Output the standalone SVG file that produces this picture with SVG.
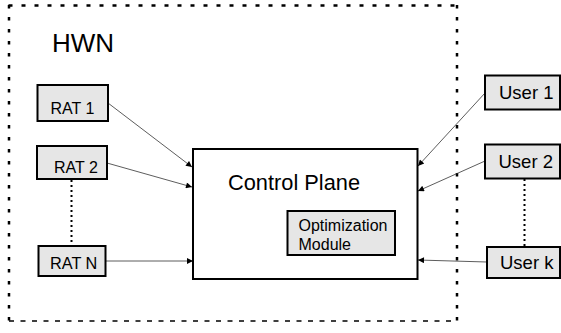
<svg xmlns="http://www.w3.org/2000/svg" width="561" height="333" viewBox="0 0 561 333">
<defs>
<style>
.box{fill:#e6e6e6;stroke:#000;stroke-width:2}
.main{fill:#fff;stroke:#000;stroke-width:2}
.t{font-family:"Liberation Sans",Arial,sans-serif;fill:#000}
.c{stroke:#333;stroke-width:0.8;fill:none;marker-end:url(#ah)}
.dot{stroke:#000;stroke-width:2;stroke-dasharray:2 3;fill:none}
</style>
<marker id="ah" viewBox="0 0 10 10" refX="10" refY="5" markerWidth="8" markerHeight="6" markerUnits="userSpaceOnUse" orient="auto">
<path d="M0,0 L10,5 L0,10 z" fill="#000"/>
</marker>
</defs>
<rect width="561" height="333" fill="#fff"/>
<g id="hwn">
<line x1="8.5" y1="5.5" x2="457" y2="5.5" stroke="#000" stroke-width="2.5" stroke-dasharray="4 9"/>
<line x1="9" y1="5" x2="9" y2="321" stroke="#000" stroke-width="2.5" stroke-dasharray="3.5 8.5"/>
<line x1="457" y1="5" x2="457" y2="321" stroke="#000" stroke-width="2.5" stroke-dasharray="3.5 8.5"/>
<line x1="9" y1="321" x2="457" y2="321" stroke="#000" stroke-width="1.3" stroke-dasharray="5 6.5"/>
<text class="t" x="52" y="52" font-size="26">HWN</text>
</g>
<g id="connectors">
<line class="c" x1="108" y1="103" x2="192" y2="167"/>
<line class="c" x1="107" y1="163" x2="192" y2="187"/>
<line class="c" x1="105" y1="261" x2="193" y2="261"/>
<line class="c" x1="485" y1="93" x2="418" y2="166"/>
<line class="c" x1="485" y1="161" x2="418" y2="191"/>
<line class="c" x1="487" y1="262" x2="418" y2="260"/>
<line class="dot" x1="71.5" y1="180" x2="71.5" y2="245"/>
<line class="dot" x1="524.5" y1="179" x2="524.5" y2="246"/>
</g>
<g id="rat1">
<rect class="box" x="37.5" y="85" width="70.5" height="36"/>
<text class="t" x="50.5" y="114" font-size="16">RAT 1</text>
</g>
<g id="rat2">
<rect class="box" x="37" y="146" width="70" height="33"/>
<text class="t" x="54" y="172.5" font-size="16">RAT 2</text>
</g>
<g id="ratn">
<rect class="box" x="38.5" y="246" width="67" height="30"/>
<text class="t" x="50" y="269" font-size="16.3">RAT N</text>
</g>
<g id="control">
<rect class="main" x="193" y="149" width="224.5" height="130"/>
<text class="t" x="228" y="190" font-size="21.8">Control Plane</text>
</g>
<g id="opt">
<rect class="box" x="287.5" y="211" width="107.5" height="44"/>
<text class="t" x="298.5" y="231" font-size="16">Optimization</text>
<text class="t" x="298.5" y="250" font-size="16">Module</text>
</g>
<g id="user1">
<rect class="box" x="485" y="75.5" width="75" height="34"/>
<text class="t" x="499" y="99" font-size="18.5">User 1</text>
</g>
<g id="user2">
<rect class="box" x="485" y="144.5" width="75" height="34"/>
<text class="t" x="498.5" y="167.5" font-size="18.5">User 2</text>
</g>
<g id="userk">
<rect class="box" x="487" y="247" width="73" height="31"/>
<text class="t" x="500" y="268.5" font-size="18.5">User k</text>
</g>
</svg>
